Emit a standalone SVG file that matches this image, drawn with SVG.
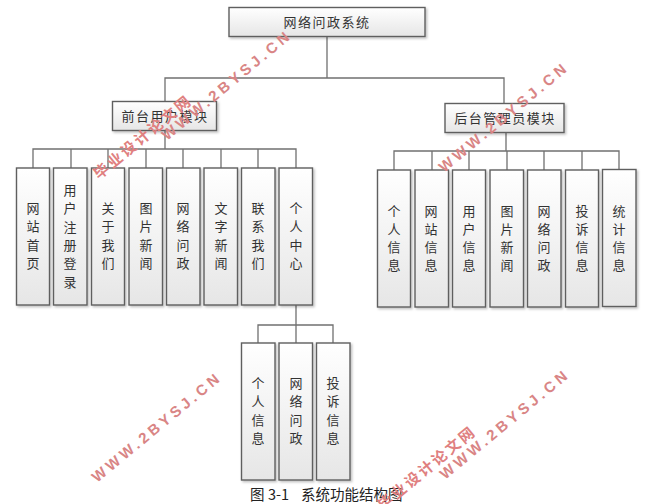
<svg xmlns="http://www.w3.org/2000/svg" width="650" height="504" viewBox="0 0 650 504">
<style>
.b{fill:url(#g);stroke:#5f5f5f;stroke-width:1.4;filter:url(#s)}
.t{font-family:"Noto Sans CJK SC","Liberation Sans",sans-serif;font-size:13px;fill:#333;text-anchor:middle}
.h{letter-spacing:1.5px}
.c{fill:none;stroke:#707070;stroke-width:1.3}
.w{font-family:"Liberation Sans",sans-serif;font-size:15px;font-weight:bold;fill:#d98585}
.z{font-family:"Noto Sans CJK SC",sans-serif;font-size:15px;font-weight:bold;fill:#e08080}
.cap{font-family:"Noto Sans CJK SC",sans-serif;font-size:14.5px;fill:#222}
</style>
<defs>
<linearGradient id="g" x1="0" y1="0" x2="0" y2="1"><stop offset="0" stop-color="#ffffff"/><stop offset="1" stop-color="#e6e6e6"/></linearGradient>
<filter id="s" x="-10%" y="-10%" width="125%" height="125%"><feDropShadow dx="1.5" dy="1.5" stdDeviation="1" flood-color="#000" flood-opacity="0.25"/></filter>
</defs>
<g id="connectors" class="c">
<path class="c" d="M327 36V78M165 101V78H504V103"/>
<path class="c" d="M165 130V149M33 168V149H296V168M71 149V168M108 149V168M146 149V168M183 149V168M221 149V168M258 149V168"/>
<path class="c" d="M506 132V151M394 170V151H619V170M432 151V170M469 151V170M507 151V170M544 151V170M582 151V170"/>
<path class="c" d="M296 305V325M258 343V325H333V343M296 325V343"/>
</g>
<g id="root"><rect class="b" x="229" y="7.500" width="196" height="29"/><text class="t h" x="327" y="27">网络问政系统</text></g>
<g id="front"><rect class="b" x="112.500" y="101.500" width="104" height="29"/><text class="t h" x="165" y="121">前台用户模块</text></g>
<g id="back"><rect class="b" x="445" y="103.500" width="119" height="29"/><text class="t h" x="505" y="123">后台管理员模块</text></g>

<g id="f1"><rect class="b" x="16.500" y="168" width="33" height="137"/><text class="t" x="33" y="213">网<tspan x="33" dy="18.300">站</tspan><tspan x="33" dy="18.300">首</tspan><tspan x="33" dy="18.300">页</tspan></text></g>
<g id="f2"><rect class="b" x="53.500" y="168" width="33.500" height="137"/><text class="t" x="70" y="195">用<tspan x="70" dy="18.300">户</tspan><tspan x="70" dy="18.300">注</tspan><tspan x="70" dy="18.300">册</tspan><tspan x="70" dy="18.300">登</tspan><tspan x="70" dy="18.300">录</tspan></text></g>
<g id="f3"><rect class="b" x="91.500" y="168" width="33" height="137"/><text class="t" x="108" y="213">关<tspan x="108" dy="18.300">于</tspan><tspan x="108" dy="18.300">我</tspan><tspan x="108" dy="18.300">们</tspan></text></g>
<g id="f4"><rect class="b" x="129" y="168" width="33.500" height="137"/><text class="t" x="146" y="213">图<tspan x="146" dy="18.300">片</tspan><tspan x="146" dy="18.300">新</tspan><tspan x="146" dy="18.300">闻</tspan></text></g>
<g id="f5"><rect class="b" x="166.500" y="168" width="33.500" height="137"/><text class="t" x="183" y="213">网<tspan x="183" dy="18.300">络</tspan><tspan x="183" dy="18.300">问</tspan><tspan x="183" dy="18.300">政</tspan></text></g>
<g id="f6"><rect class="b" x="204" y="168" width="33.500" height="137"/><text class="t" x="221" y="213">文<tspan x="221" dy="18.300">字</tspan><tspan x="221" dy="18.300">新</tspan><tspan x="221" dy="18.300">闻</tspan></text></g>
<g id="f7"><rect class="b" x="241.500" y="168" width="33.500" height="137"/><text class="t" x="258" y="213">联<tspan x="258" dy="18.300">系</tspan><tspan x="258" dy="18.300">我</tspan><tspan x="258" dy="18.300">们</tspan></text></g>
<g id="f8"><rect class="b" x="279" y="168" width="33.500" height="137"/><text class="t" x="296" y="213">个<tspan x="296" dy="18.300">人</tspan><tspan x="296" dy="18.300">中</tspan><tspan x="296" dy="18.300">心</tspan></text></g>

<g id="s1"><rect class="b" x="241.500" y="343" width="33.500" height="137"/><text class="t" x="258" y="388">个<tspan x="258" dy="18.300">人</tspan><tspan x="258" dy="18.300">信</tspan><tspan x="258" dy="18.300">息</tspan></text></g>
<g id="s2"><rect class="b" x="279" y="343" width="33.500" height="137"/><text class="t" x="296" y="388">网<tspan x="296" dy="18.300">络</tspan><tspan x="296" dy="18.300">问</tspan><tspan x="296" dy="18.300">政</tspan></text></g>
<g id="s3"><rect class="b" x="316.500" y="343" width="33.500" height="137"/><text class="t" x="333" y="388">投<tspan x="333" dy="18.300">诉</tspan><tspan x="333" dy="18.300">信</tspan><tspan x="333" dy="18.300">息</tspan></text></g>

<g id="r1"><rect class="b" x="377.500" y="170" width="33" height="137"/><text class="t" x="394" y="216">个<tspan x="394" dy="18">人</tspan><tspan x="394" dy="18">信</tspan><tspan x="394" dy="18">息</tspan></text></g>
<g id="r2"><rect class="b" x="415" y="170" width="33.500" height="137"/><text class="t" x="431" y="216">网<tspan x="431" dy="18">站</tspan><tspan x="431" dy="18">信</tspan><tspan x="431" dy="18">息</tspan></text></g>
<g id="r3"><rect class="b" x="452.500" y="170" width="33" height="137"/><text class="t" x="469" y="216">用<tspan x="469" dy="18">户</tspan><tspan x="469" dy="18">信</tspan><tspan x="469" dy="18">息</tspan></text></g>
<g id="r4"><rect class="b" x="490" y="170" width="33.500" height="137"/><text class="t" x="507" y="216">图<tspan x="507" dy="18">片</tspan><tspan x="507" dy="18">新</tspan><tspan x="507" dy="18">闻</tspan></text></g>
<g id="r5"><rect class="b" x="527.500" y="170" width="33.500" height="137"/><text class="t" x="544" y="216">网<tspan x="544" dy="18">络</tspan><tspan x="544" dy="18">问</tspan><tspan x="544" dy="18">政</tspan></text></g>
<g id="r6"><rect class="b" x="565.500" y="170" width="33" height="137"/><text class="t" x="582" y="216">投<tspan x="582" dy="18">诉</tspan><tspan x="582" dy="18">信</tspan><tspan x="582" dy="18">息</tspan></text></g>
<g id="r7"><rect class="b" x="602.500" y="169.500" width="33.500" height="137"/><text class="t" x="619" y="216">统<tspan x="619" dy="18">计</tspan><tspan x="619" dy="18">信</tspan><tspan x="619" dy="18">息</tspan></text></g>

<text class="cap" y="500"><tspan x="250">图</tspan><tspan x="268">3-1</tspan><tspan x="301">系统功能结构图</tspan></text>

<g id="watermarks">
<text class="w" transform="translate(167,141) rotate(-39.500)" textLength="160" lengthAdjust="spacing">WWW.2BYSJ.CN</text>
<text class="w" transform="translate(444,173) rotate(-39.500)" textLength="160" lengthAdjust="spacing">WWW.2BYSJ.CN</text>
<text class="w" transform="translate(97,483) rotate(-39.500)" textLength="160" lengthAdjust="spacing">WWW.2BYSJ.CN</text>
<text class="w" transform="translate(445,480) rotate(-39.500)" textLength="160" lengthAdjust="spacing">WWW.2BYSJ.CN</text>
<text class="z" transform="translate(99,180) rotate(-39.500)" textLength="120" lengthAdjust="spacing">毕业设计论文网</text>
<text class="z" transform="translate(383,511) rotate(-39.500)" textLength="120" lengthAdjust="spacing">毕业设计论文网</text>
</g>
</svg>
